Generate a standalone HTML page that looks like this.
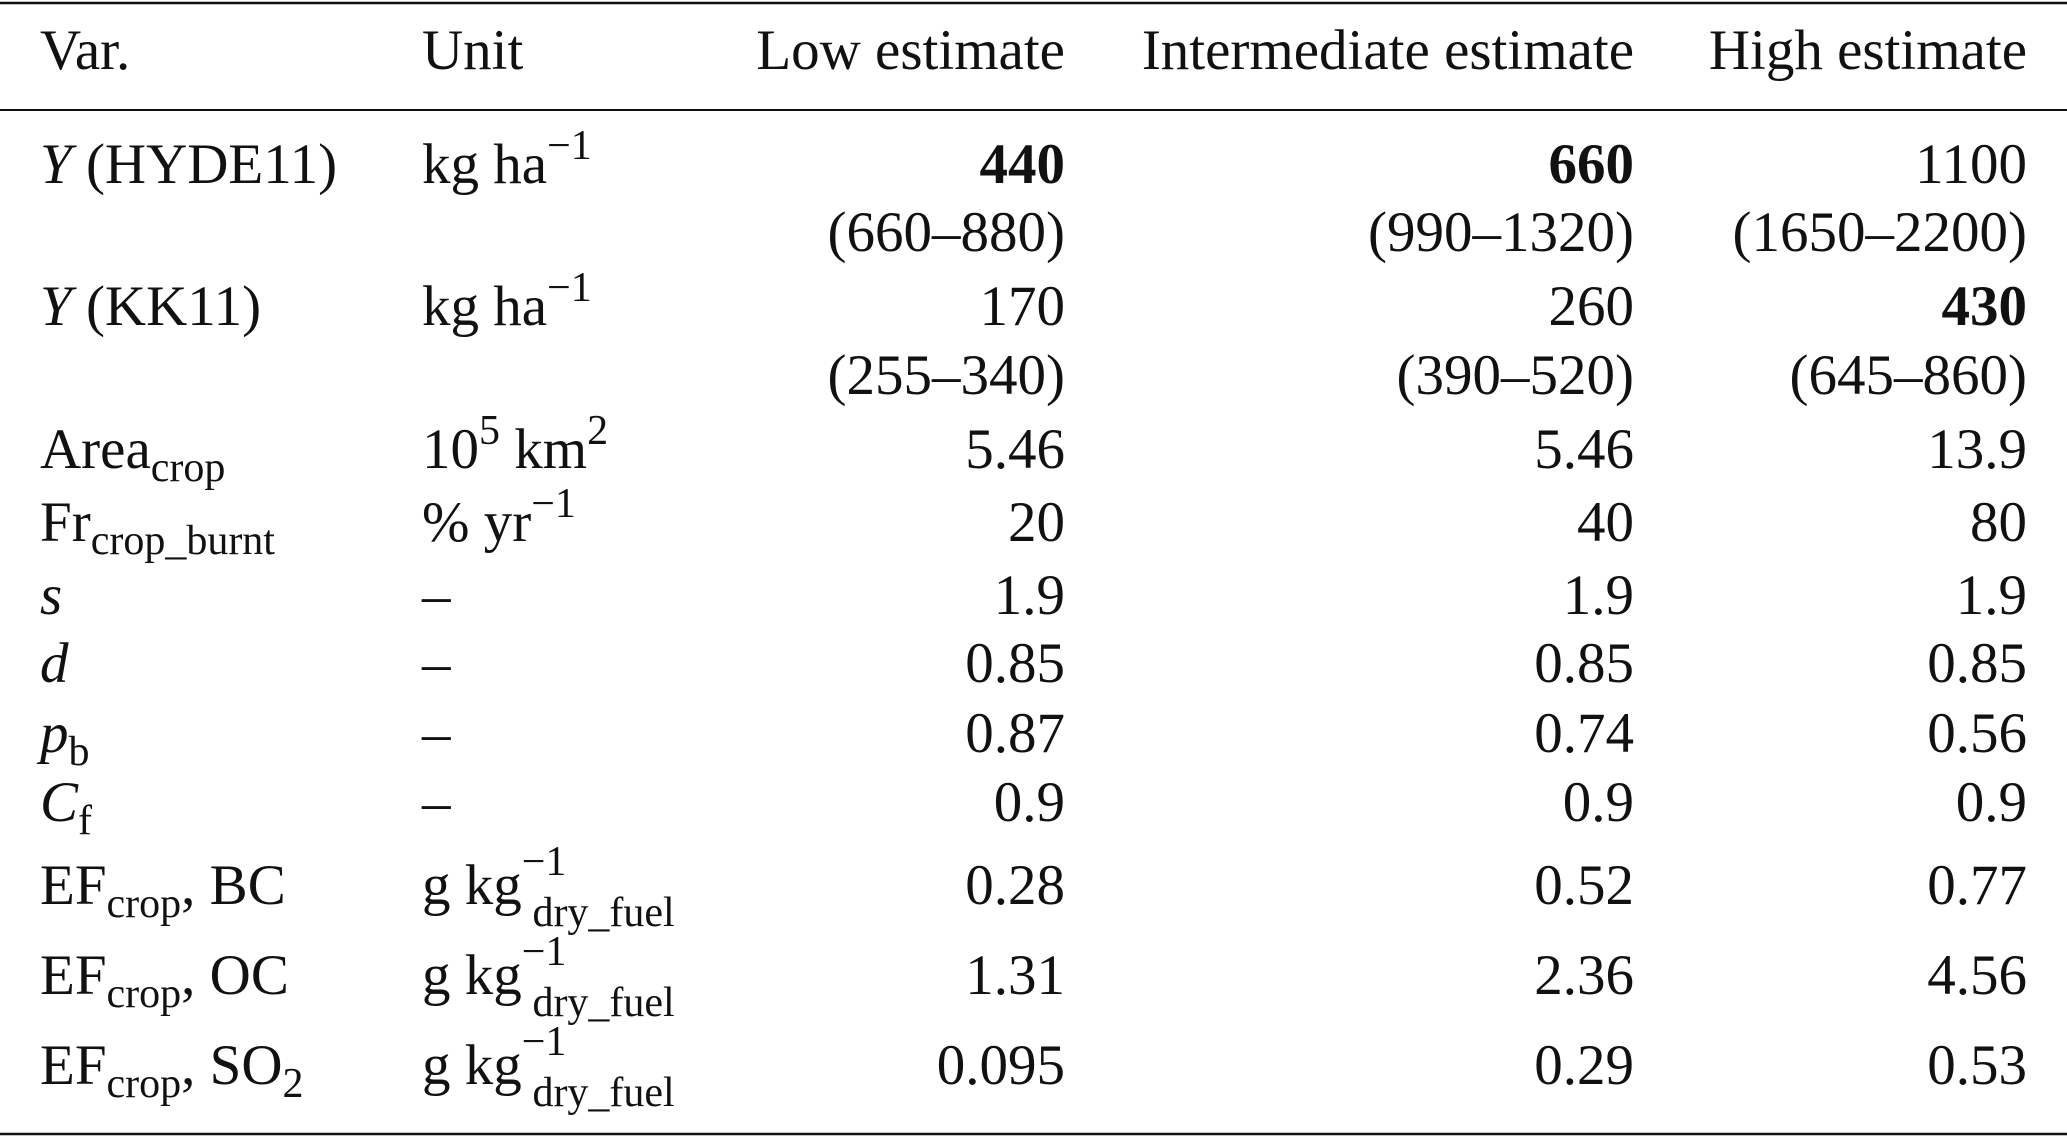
<!DOCTYPE html>
<html><head><meta charset="utf-8"><style>
html,body{margin:0;padding:0;background:#fff}
svg{display:block}
text{font-family:"Liberation Serif",serif;font-size:57px;fill:#111}
.s{font-size:42px}
</style></head><body>
<svg width="2067" height="1137" viewBox="0 0 2067 1137">
<line x1="0" y1="3" x2="2067" y2="3" stroke="#111" stroke-width="2.5"/>
<line x1="0" y1="110" x2="2067" y2="110" stroke="#111" stroke-width="2"/>
<line x1="0" y1="1134" x2="2067" y2="1134" stroke="#111" stroke-width="2.5"/>
<g>
<text x="40" y="69">Var.</text>
<text x="422" y="69">Unit</text>
<text x="1065" y="69" text-anchor="end">Low estimate</text>
<text x="1634" y="69" text-anchor="end">Intermediate estimate</text>
<text x="2027" y="69" text-anchor="end">High estimate</text>
</g>
<g id="body"></g>
</svg>
<script>
const rowBaselines=[183,251,325,394,468,541,614,682,752,821,904,994,1084];
const varLabels=[
 '<tspan font-style="italic">Y</tspan> (HYDE11)','',
 '<tspan font-style="italic">Y</tspan> (KK11)','',
 'Area<tspan class="s" dy="13">crop</tspan>',
 'Fr<tspan class="s" dy="13">crop_burnt</tspan>',
 '<tspan font-style="italic">s</tspan>',
 '<tspan font-style="italic">d</tspan>',
 '<tspan font-style="italic">p</tspan><tspan class="s" dy="13">b</tspan>',
 '<tspan font-style="italic">C</tspan><tspan class="s" dy="13">f</tspan>',
 'EF<tspan class="s" dy="13">crop</tspan><tspan dy="-13">, BC</tspan>',
 'EF<tspan class="s" dy="13">crop</tspan><tspan dy="-13">, OC</tspan>',
 'EF<tspan class="s" dy="13">crop</tspan><tspan dy="-13">, SO</tspan><tspan class="s" dy="13">2</tspan>'];
const efUnit='g kg<tspan class="s" dy="-29">−1</tspan><tspan class="s" dx="-34" dy="51">dry_fuel</tspan>';
const unitLabels=['kg ha<tspan class="s" dy="-24">−1</tspan>','','kg ha<tspan class="s" dy="-24">−1</tspan>','',
 '10<tspan class="s" dy="-24">5</tspan><tspan dy="24"> km</tspan><tspan class="s" dy="-24">2</tspan>',
 '% yr<tspan class="s" dy="-24">−1</tspan>','–','–','–','–',efUnit,efUnit,efUnit];
const lowValues=['440','(660–880)','170','(255–340)','5.46','20','1.9','0.85','0.87','0.9','0.28','1.31','0.095'];
const intermediateValues=['660','(990–1320)','260','(390–520)','5.46','40','1.9','0.85','0.74','0.9','0.52','2.36','0.29'];
const highValues=['1100','(1650–2200)','430','(645–860)','13.9','80','1.9','0.85','0.56','0.9','0.77','4.56','0.53'];
const boldCells={low:[0],intermediate:[0],high:[2]};
const body=document.getElementById('body');
const NS='http://www.w3.org/2000/svg';
function mk(x,y,html,anchor,bold,name){
 const t=document.createElementNS(NS,'text');
 t.setAttribute('x',x);t.setAttribute('y',y);
 if(anchor)t.setAttribute('text-anchor',anchor);
 if(bold)t.setAttribute('font-weight','bold');
 t.innerHTML=html;
 
 
 body.appendChild(t);
}
rowBaselines.forEach((y,i)=>{
 if(varLabels[i])mk(40,y,varLabels[i],null,false,'var-label-'+i);
 if(unitLabels[i])mk(422,y,unitLabels[i],null,false,'unit-label-'+i);
 mk(1065,y,lowValues[i],'end',boldCells.low.includes(i),'low-value-'+i);
 mk(1634,y,intermediateValues[i],'end',boldCells.intermediate.includes(i),'intermediate-value-'+i);
 mk(2027,y,highValues[i],'end',boldCells.high.includes(i),'high-value-'+i);
});
</script>
</body></html>
